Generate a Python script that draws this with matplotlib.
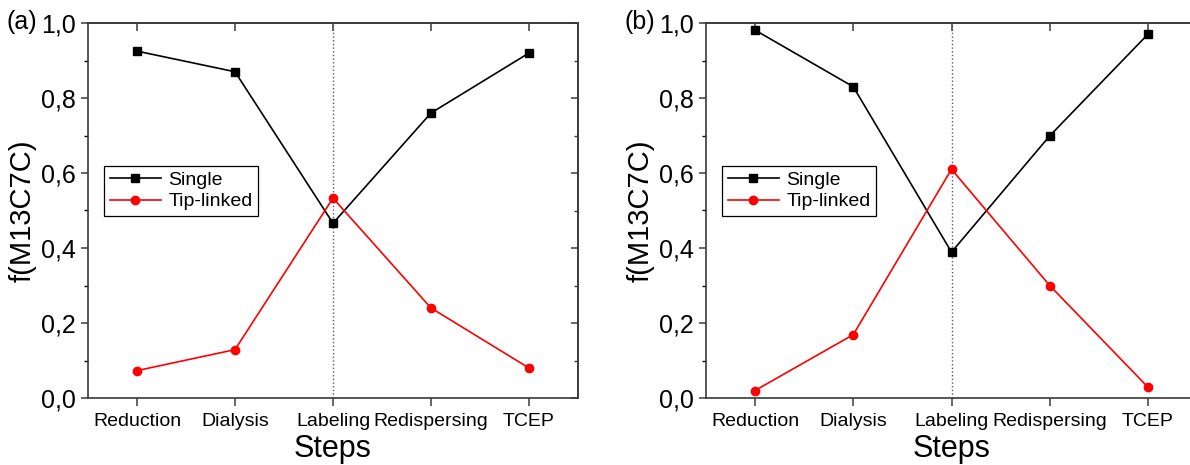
import matplotlib
matplotlib.use("Agg")
import matplotlib.pyplot as plt
from matplotlib.ticker import FuncFormatter, MultipleLocator

plt.rcParams['font.family'] = ['Liberation Sans', 'DejaVu Sans']

steps = ['Reduction', 'Dialysis', 'Labeling', 'Redispersing', 'TCEP']
single_a = [0.925, 0.870, 0.466, 0.760, 0.920]
tip_a = [0.073, 0.129, 0.533, 0.240, 0.080]
single_b = [0.981, 0.830, 0.389, 0.699, 0.970]
tip_b = [0.020, 0.169, 0.610, 0.300, 0.029]
panels = ['(a)', '(b)']

fig = plt.figure(figsize=(11.9, 4.65), dpi=100)
W, H = 1190, 465
ax_a = fig.add_axes([88 / W, (465 - 398) / H, 490 / W, 375 / H])
ax_b = fig.add_axes([706 / W, (465 - 398) / H, 491 / W, 375 / H])

comma = FuncFormatter(lambda v, p: '{:.1f}'.format(v).replace('.', ','))
spine_col = '#3a3a3a'

for ax, s, t, lab in [(ax_a, single_a, tip_a, panels[0]), (ax_b, single_b, tip_b, panels[1])]:
    x = list(range(1, len(steps) + 1))
    ax.axvline(3, color='0.35', linestyle=':', linewidth=1.0, zorder=1)
    ax.plot(x, s, color='black', marker='s', markersize=5.5, linewidth=1.2, label='Single', zorder=3)
    ax.plot(x, t, color='red', marker='o', markersize=6, linewidth=1.2, label='Tip-linked', zorder=3)
    ax.set_xlim(0.5, 5.5)
    ax.set_ylim(0, 1.0)
    ax.set_xticks(x)
    ax.set_xticklabels(steps, fontsize=14)
    ax.yaxis.set_major_locator(MultipleLocator(0.2))
    ax.yaxis.set_minor_locator(MultipleLocator(0.1))
    ax.yaxis.set_major_formatter(comma)
    ax.tick_params(axis='y', labelsize=18, colors=spine_col, labelcolor='black')
    ax.tick_params(axis='y', which='major', direction='out', length=5, width=1.1, pad=4)
    ax.tick_params(axis='y', which='minor', direction='out', length=3, width=1.0)
    ax.tick_params(axis='x', direction='out', length=6, width=1.1, colors=spine_col, labelcolor='black', pad=5)
    # inward ticks on top and right
    axr = ax.secondary_yaxis('right')
    axr.yaxis.set_major_locator(MultipleLocator(0.2))
    axr.yaxis.set_minor_locator(MultipleLocator(0.1))
    axr.tick_params(which='major', direction='in', length=5, width=1.1, labelright=False, colors=spine_col)
    axr.tick_params(which='minor', direction='in', length=3, width=1.0, colors=spine_col)
    axr.spines['right'].set_color(spine_col)
    axr.spines['right'].set_linewidth(1.2)
    axt = ax.secondary_xaxis('top')
    axt.set_xticks(x)
    axt.tick_params(direction='in', length=6, width=1.1, labeltop=False, colors=spine_col)
    axt.spines['top'].set_color(spine_col)
    axt.spines['top'].set_linewidth(1.2)
    for sp in ax.spines.values():
        sp.set_color(spine_col)
        sp.set_linewidth(1.2)
    ax.set_xlabel('Steps', fontsize=22, labelpad=3)
    ax.set_ylabel('f(M13C7C)', fontsize=21, labelpad=3)
    leg = ax.legend(loc='upper left', bbox_to_anchor=(0.033, 0.62), fontsize=14,
                    frameon=True, fancybox=False, framealpha=1, borderaxespad=0,
                    handlelength=2.6, handletextpad=0.4, borderpad=0.3, labelspacing=0.2)
    leg.get_frame().set_edgecolor('black')
    leg.get_frame().set_linewidth(0.9)

fig.text(7 / W, 1 - 22 / H, panels[0], fontsize=18, ha='left', va='center')
fig.text(625 / W, 1 - 22 / H, panels[1], fontsize=18, ha='left', va='center')

fig.savefig('out.png', dpi=100)
